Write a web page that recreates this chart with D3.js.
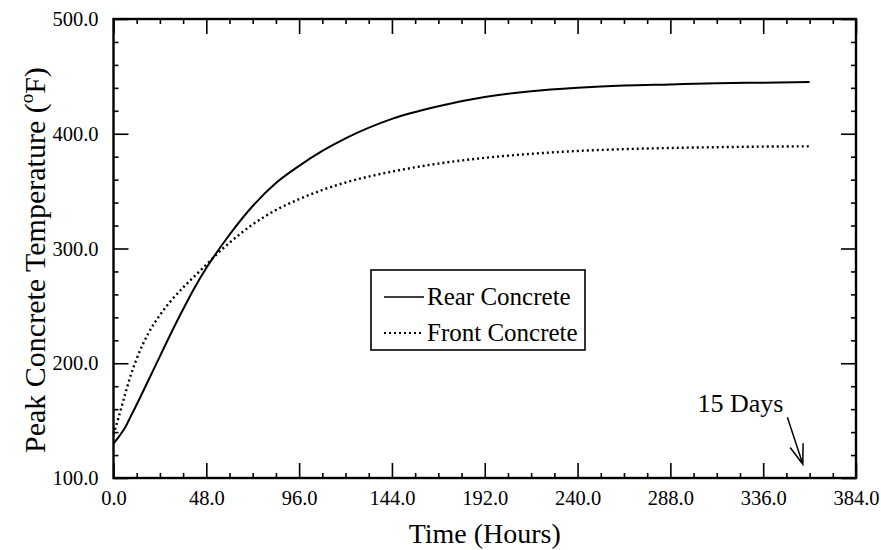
<!DOCTYPE html>
<html>
<head>
<meta charset="utf-8">
<script src="https://cdn.jsdelivr.net/npm/d3@7"></script>
<style>
	body { margin: 0; background: #fff; }
	text { font-family: "Liberation Serif", "Times New Roman", serif; fill: #000; }
</style>
</head>
<body>
<div id="chart"></div>
<script>
// hours after placement, peak concrete temperature in deg F
const hours = [0, 3, 6, 9, 12, 18, 24, 30, 36, 42, 48, 54, 60, 72, 84, 96, 108, 120, 144, 168, 192, 216, 240, 264, 288, 312, 336, 360];
const rearTemp = [130, 136.5, 144, 154, 164, 185, 206, 227, 247, 266, 283, 298, 312, 337, 357, 372, 385, 396, 413, 424, 432, 437, 440, 442, 443, 444, 444.5, 445];
const frontTemp = [138, 155, 173, 190, 204, 226, 242, 255, 266, 276, 286, 296, 305, 321, 333.5, 343, 351, 357.5, 367, 374, 379, 382.5, 385, 386.6, 387.6, 388.3, 388.8, 389];

const seriesNames = ['Rear Concrete', 'Front Concrete'];
const xTicks = [0, 48, 96, 144, 192, 240, 288, 336, 384];
const yTicks = [100, 200, 300, 400, 500];

// "15 Days" note: arrow from [hours, temp] to [hours, temp]
const noteText = '15 Days';
const noteArrow = [[348.5, 153], [356.5, 112]];

const width = 881;
const height = 550;
const margin = { top: 19, right: 25, bottom: 72, left: 113.5 };

const x = d3.scaleLinear().domain([0, 384]).range([margin.left, width - margin.right]);
const y = d3.scaleLinear().domain([100, 500]).range([height - margin.bottom, margin.top]);

const svg = d3.select('#chart')
	.append('svg')
	.attr('width', width)
	.attr('height', height);

const fmt = d => d.toFixed(1);
const majorLen = 15;
const minorLen = 5;

// minor ticks, every 12 h and every 20 deg
const xMinor = d3.range(0, 385, 12).filter(d => d % 48 !== 0);
const yMinor = d3.range(100, 501, 20).filter(d => d % 100 !== 0);

function tickAxis(axis, scale, values, len, labels) {
	return axis(scale)
		.tickValues(values)
		.tickSizeInner(-len)
		.tickSizeOuter(0)
		.tickFormat(labels ? fmt : '');
}

const plotBottom = y.range()[0];
const plotTop = y.range()[1];
const plotLeft = x.range()[0];
const plotRight = x.range()[1];

const axes = [
	{ axis: d3.axisBottom, scale: x, at: `translate(0,${plotBottom})`, ticks: xTicks, minor: xMinor, labels: true, pad: 12 },
	{ axis: d3.axisTop, scale: x, at: `translate(0,${plotTop})`, ticks: xTicks, minor: xMinor, labels: false },
	{ axis: d3.axisLeft, scale: y, at: `translate(${plotLeft},0)`, ticks: yTicks, minor: yMinor, labels: true, pad: 15 },
	{ axis: d3.axisRight, scale: y, at: `translate(${plotRight},0)`, ticks: yTicks, minor: yMinor, labels: false },
];

axes.forEach(function(a) {
	const g = svg.append('g')
		.attr('transform', a.at)
		.call(tickAxis(a.axis, a.scale, a.ticks, majorLen, a.labels).tickPadding(a.pad || 3));
	g.append('g')
		.call(tickAxis(a.axis, a.scale, a.minor, minorLen, false));
	g.selectAll('.domain').remove();
	g.selectAll('line').attr('stroke', '#000').attr('stroke-width', 1.6);
	g.selectAll('text').style('font-size', '20.5px');
});

svg.append('rect')
	.attr('x', plotLeft)
	.attr('y', plotTop)
	.attr('width', plotRight - plotLeft)
	.attr('height', plotBottom - plotTop)
	.attr('fill', 'none')
	.attr('stroke', '#000')
	.attr('stroke-width', 2.4);

// curves
const series = [
	{ name: seriesNames[0], values: rearTemp, dash: null, width: 2 },
	{ name: seriesNames[1], values: frontTemp, dash: '2,3', width: 2.4 },
];

const line = d3.line()
	.x(d => x(d[0]))
	.y(d => y(d[1]))
	.curve(d3.curveMonotoneX);

series.forEach(function(s) {
	svg.append('path')
		.datum(hours.map((h, i) => [h, s.values[i]]))
		.attr('d', line)
		.attr('fill', 'none')
		.attr('stroke', '#000')
		.attr('stroke-width', s.width)
		.attr('stroke-dasharray', s.dash);
});

// legend
const legend = svg.append('g')
	.attr('transform', 'translate(371,270)');

legend.append('rect')
	.attr('width', 214)
	.attr('height', 80)
	.attr('fill', '#fff')
	.attr('stroke', '#000')
	.attr('stroke-width', 1.6);

const rows = legend.selectAll('g.row')
	.data(series)
	.enter()
	.append('g')
	.attr('class', 'row')
	.attr('transform', (d, i) => `translate(0,${27 + i * 36})`);

rows.append('line')
	.attr('x1', 13)
	.attr('x2', 53)
	.attr('stroke', '#000')
	.attr('stroke-width', d => d.width * 0.75)
	.attr('stroke-dasharray', d => d.dash);

rows.append('text')
	.attr('x', 56)
	.attr('dy', '0.33em')
	.style('font-size', '25px')
	.text(d => d.name);

// axis titles
svg.append('text')
	.attr('x', (plotLeft + plotRight) / 2)
	.attr('y', 543)
	.attr('text-anchor', 'middle')
	.style('font-size', '28px')
	.text('Time (Hours)');

const yTitle = svg.append('text')
	.attr('transform', 'translate(45,453) rotate(-90)')
	.style('font-size', '30px');
yTitle.append('tspan').text('Peak Concrete Temperature (');
yTitle.append('tspan').attr('dy', -12).style('font-size', '19px').text('o');
yTitle.append('tspan').attr('dy', 12).text('F)');

// 15 days note
const p0 = [x(noteArrow[0][0]), y(noteArrow[0][1])];
const p1 = [x(noteArrow[1][0]), y(noteArrow[1][1])];
const ang = Math.atan2(p0[1] - p1[1], p0[0] - p1[0]);
const head = 21;
const spread = 0.33;

svg.append('path')
	.attr('d', `M${p0}L${p1}` +
		`M${p1[0] + head * Math.cos(ang - spread)},${p1[1] + head * Math.sin(ang - spread)}L${p1}` +
		`L${p1[0] + head * Math.cos(ang + spread)},${p1[1] + head * Math.sin(ang + spread)}`)
	.attr('fill', 'none')
	.attr('stroke', '#000')
	.attr('stroke-width', 1.5);

svg.append('text')
	.attr('x', p0[0] - 4)
	.attr('y', p0[1] - 5)
	.attr('text-anchor', 'end')
	.style('font-size', '26px')
	.text(noteText);
</script>
</body>
</html>
